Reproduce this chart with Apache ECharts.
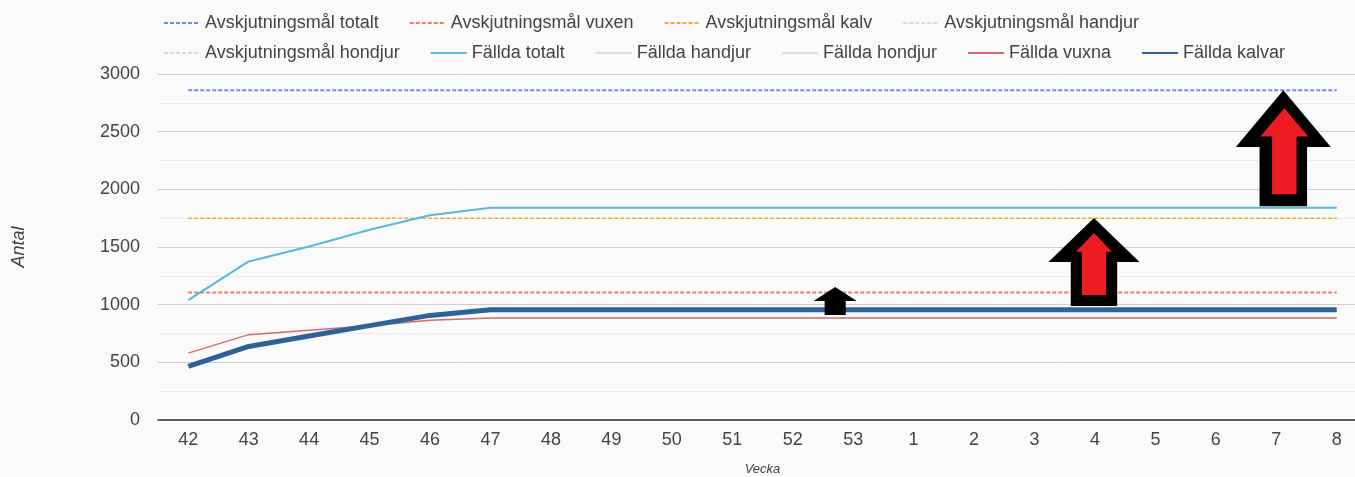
<!DOCTYPE html>
<html>
<head>
<meta charset="utf-8">
<script src="https://cdn.jsdelivr.net/npm/echarts@6/dist/echarts.min.js"></script>
<style>
  html, body { margin: 0; padding: 0; background: #fafafa; }
  #chart { width: 1355px; height: 477px; }
</style>
</head>
<body>
<div id="chart"></div>
<script>
// veckor (x-axel)
const weeks = ['42', '43', '44', '45', '46', '47', '48', '49', '50', '51', '52', '53', '1', '2', '3', '4', '5', '6', '7', '8']
const yTicks = [0, 500, 1000, 1500, 2000, 2500, 3000]

// avskjutningsmål
const malTotalt = [2860, 2860, 2860, 2860, 2860, 2860, 2860, 2860, 2860, 2860, 2860, 2860, 2860, 2860, 2860, 2860, 2860, 2860, 2860, 2860]
const malVuxen = [1105, 1105, 1105, 1105, 1105, 1105, 1105, 1105, 1105, 1105, 1105, 1105, 1105, 1105, 1105, 1105, 1105, 1105, 1105, 1105]
const malKalv = [1750, 1750, 1750, 1750, 1750, 1750, 1750, 1750, 1750, 1750, 1750, 1750, 1750, 1750, 1750, 1750, 1750, 1750, 1750, 1750]
const malHandjur = []
const malHondjur = []

// fällda
const falldaTotalt = [1040, 1375, 1505, 1650, 1775, 1840, 1840, 1840, 1840, 1840, 1840, 1840, 1840, 1840, 1840, 1840, 1840, 1840, 1840, 1840]
const falldaHandjur = []
const falldaHondjur = []
const falldaVuxna = [580, 740, 778, 818, 864, 885, 885, 885, 885, 885, 885, 885, 885, 885, 885, 885, 885, 885, 885, 885]
const falldaKalvar = [465, 638, 728, 818, 907, 955, 955, 955, 955, 955, 955, 955, 955, 955, 955, 955, 955, 955, 955, 955]

// pilar (spetsens vecka och värde)
const pilVecka = ['53', '4', '7']
const pilTopp = [1153, 1751, 2860]

const FONT = 'Arial, "Liberation Sans", sans-serif'

// pil som path, head = andel huvud av höjden, stem = andel skaft av bredden
const arrowPath = (head, stem) => {
  const h = head * 100
  const a = 50 - stem * 50
  const b = 50 + stem * 50
  return 'path://M50,0 L100,' + h + ' L' + b + ',' + h + ' L' + b + ',100 L' + a + ',100 L' + a + ',' + h + ' L0,' + h + ' Z'
}

const lineSeries = (name, data, color, width, dashed) => ({
  name,
  type: 'line',
  data,
  symbol: 'none',
  showSymbol: false,
  animation: false,
  lineStyle: {
    color,
    width,
    type: dashed ? [4, 2] : 'solid',
  },
  itemStyle: { color },
})

const series = [
  lineSeries('Avskjutningsmål totalt', malTotalt, '#6f8fe6', 2, true),
  lineSeries('Avskjutningsmål vuxen', malVuxen, '#ee7d68', 2, true),
  lineSeries('Avskjutningsmål kalv', malKalv, '#f7a733', 1.5, true),
  lineSeries('Avskjutningsmål handjur', malHandjur, '#d9d9d9', 2, true),
  lineSeries('Avskjutningsmål hondjur', malHondjur, '#d9d9d9', 2, true),
  lineSeries('Fällda totalt', falldaTotalt, '#56b8dc', 2, false),
  lineSeries('Fällda handjur', falldaHandjur, '#dcdcdc', 2.5, false),
  lineSeries('Fällda hondjur', falldaHondjur, '#dcdcdc', 2.5, false),
  lineSeries('Fällda vuxna', falldaVuxna, '#d46a6a', 1.5, false),
  lineSeries('Fällda kalvar', falldaKalvar, '#30629a', 5, false),
  {
    name: 'pilar',
    type: 'line',
    data: [],
    z: 10,
    animation: false,
    markPoint: {
      animation: false,
      label: { show: false },
      data: [
        // liten svart pil
        { coord: [pilVecka[0], pilTopp[0]], symbol: arrowPath(0.5, 0.49), symbolSize: [43, 28], symbolOffset: [-18, 14], itemStyle: { color: '#000' } },
        // mellersta pilen
        { coord: [pilVecka[1], pilTopp[1]], symbol: arrowPath(0.5, 0.51), symbolSize: [91, 88], symbolOffset: [-1, 44], itemStyle: { color: '#000' } },
        { coord: [pilVecka[1], pilTopp[1]], symbol: arrowPath(0.3, 0.67), symbolSize: [36, 62], symbolOffset: [-1, 46], itemStyle: { color: '#ed1c24' } },
        // stora pilen
        { coord: [pilVecka[2], pilTopp[2]], symbol: arrowPath(0.49, 0.5), symbolSize: [95, 116], symbolOffset: [7, 58], itemStyle: { color: '#000' } },
        { coord: [pilVecka[2], pilTopp[2]], symbol: arrowPath(0.33, 0.51), symbolSize: [48, 86], symbolOffset: [8, 61], itemStyle: { color: '#ed1c24' } },
      ],
    },
  },
]

const legendBase = {
  left: 158,
  itemWidth: 36,
  itemHeight: 14,
  itemGap: 30,
  // dölj cirkeln i legendikonen, bara linjen syns
  itemStyle: { color: 'rgba(0,0,0,0)', borderColor: 'rgba(0,0,0,0)', borderWidth: 0 },
  textStyle: { fontFamily: FONT, fontSize: 18, color: '#444' },
}

const option = {
  backgroundColor: '#fafafa',
  animation: false,
  legend: [
    {
      ...legendBase,
      top: 9,
      data: ['Avskjutningsmål totalt', 'Avskjutningsmål vuxen', 'Avskjutningsmål kalv', 'Avskjutningsmål handjur'],
    },
    {
      ...legendBase,
      top: 39,
      data: ['Avskjutningsmål hondjur', 'Fällda totalt', 'Fällda handjur', 'Fällda hondjur', 'Fällda vuxna', 'Fällda kalvar'],
    },
  ],
  grid: {
    left: 158,
    right: -12,
    top: 74,
    bottom: 57,
    containLabel: false,
    outerBoundsMode: 'none',
  },
  xAxis: {
    type: 'category',
    data: weeks,
    boundaryGap: true,
    name: 'Vecka',
    nameLocation: 'middle',
    nameGap: 43,
    nameTextStyle: { fontFamily: FONT, fontSize: 13, fontStyle: 'italic', color: '#444' },
    axisLine: { show: true, lineStyle: { color: '#333', width: 1.5 } },
    axisTick: { show: false },
    axisLabel: { fontFamily: FONT, fontSize: 18, color: '#444', margin: 11, interval: 0 },
  },
  yAxis: {
    type: 'value',
    min: yTicks[0],
    max: yTicks[yTicks.length - 1],
    interval: 500,
    name: 'Antal',
    nameLocation: 'middle',
    nameGap: 130,
    nameRotate: 90,
    nameTextStyle: { fontFamily: FONT, fontSize: 18, fontStyle: 'italic', color: '#444' },
    axisLine: { show: false },
    axisTick: { show: false },
    axisLabel: { fontFamily: FONT, fontSize: 18, color: '#444', margin: 18, formatter: (v) => String(v) },
    splitLine: { show: true, lineStyle: { color: '#cccccc', width: 1 } },
    minorTick: { show: false, splitNumber: 2 },
    minorSplitLine: { show: true, lineStyle: { color: '#ebebeb', width: 1 } },
  },
  series,
}

const chart = echarts.init(document.getElementById('chart'))
chart.setOption(option)
</script>
</body>
</html>
